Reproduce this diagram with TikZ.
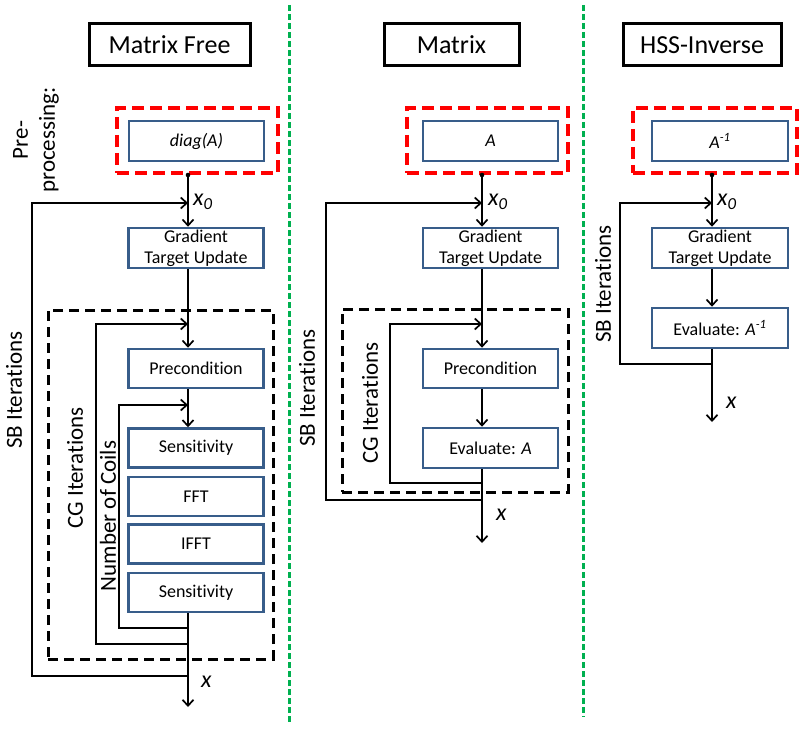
\documentclass[tikz,border=0pt]{standalone}
\usepackage{fontspec}
\setmainfont{Carlito}[Ligatures={NoCommon}]
\usetikzlibrary{arrows.meta}
\definecolor{boxblue}{RGB}{56,93,138}
\definecolor{sepgreen}{RGB}{0,176,80}
\begin{document}
\begin{tikzpicture}[x=1pt,y=-1pt,
  flow/.style={line width=1.7pt,-{Straight Barb[length=6pt,width=11pt,line width=1.7pt]}},
  titlebox/.style={draw,line width=3pt,minimum height=42pt,inner sep=0pt,font=\fontsize{26}{30}\selectfont},
  bbox/.style={draw=boxblue,line width=2.5pt,fill=white,minimum width=135pt,minimum height=40pt,inner sep=0pt,align=center,font=\fontsize{18}{21}\selectfont},
  gbox/.style={bbox,text height=19pt},
  prebox/.style={draw=red,line width=3.5pt,dash pattern=on 12pt off 6pt,minimum width=161pt,minimum height=65pt,inner sep=0pt},
  cgbox/.style={draw=black,line width=3pt,dash pattern=on 10pt off 6pt,inner sep=0pt},
  sepline/.style={draw=sepgreen,line width=3pt,dash pattern=on 6pt off 3pt},
  sidelab/.style={rotate=90,inner sep=0pt,align=center,font=\fontsize{23}{27}\selectfont},
  vlab/.style={inner sep=0pt,anchor=base west,font=\fontsize{24}{28}\selectfont\itshape},
  dotmark/.style={fill=black}
]
\useasboundingbox (0,0) rectangle (800,730);

% separators
\coordinate (sepAt) at (289,5); \coordinate (sepAb) at (289,722);
\coordinate (sepBt) at (583,5); \coordinate (sepBb) at (583,717);
\draw[sepline] (sepAt) -- (sepAb);
\draw[sepline] (sepBt) -- (sepBb);

% ================= Matrix Free =================
\node[titlebox,minimum width=161pt] (t1) at (169.5,45) {Matrix Free};
\node[sidelab] (pre) at (36,140) {Pre-\\processing:};
\node[prebox] (r1) at (197.5,140.5) {};
\node[bbox] (a1) at (196.5,141) {\itshape diag(A)};
\node[bbox] (g1) at (196,248) {Gradient\\Target Update};
\node[cgbox,minimum width=225pt,minimum height=349pt] (cg1box) at (160.5,484.5) {};
\node[bbox,minimum height=39pt] (p1) at (196,368.5) {Precondition};
\node[bbox,minimum height=39pt] (s1) at (196,448) {Sensitivity};
\node[bbox,minimum height=39pt] (f1) at (196,496.5) {FFT};
\node[bbox,minimum height=39pt] (i1) at (196,544) {IFFT};
\node[bbox,minimum height=39pt] (s2) at (196,592.5) {Sensitivity};

\coordinate (d1) at (188,175);
\coordinate (in1) at (188,203);
\coordinate (cgi1) at (188,324);
\coordinate (coi1) at (188,405);
\coordinate (coj1) at (188,628);
\coordinate (cgj1) at (188,644);
\coordinate (sbj1) at (188,676);
\coordinate (out1) at (188,707);

\fill[dotmark] (d1) circle (2.3pt);
\draw[flow] (d1) -- (d1 |- g1.north);
\draw[flow] (g1.south -| d1) -- (d1 |- p1.north);
\draw[flow] (p1.south -| d1) -- (d1 |- s1.north);
\draw[flow] (s2.south -| d1) -- (out1);
\draw[flow] (sbj1) -- ++(-156,0) |- (in1);
\draw[flow] (cgj1) -- ++(-92,0) |- (cgi1);
\draw[flow] (coj1) -- ++(-69,0) |- (coi1);

\node[vlab] (x01) at (193,206) {x\textsubscript{0}};
\node[vlab] (x1) at (201,687) {x};
\node[sidelab] (sb1) at (14,390) {SB Iterations};
\node[sidelab] (cg1) at (75,468) {CG Iterations};
\node[sidelab] (co1) at (108,516) {Number of Coils};

% ================= Matrix =================
\node[titlebox,minimum width=135pt] (t2) at (451.5,45) {Matrix};
\node[prebox] (r2) at (487.5,140.5) {};
\node[bbox] (a2) at (490.5,141) {\itshape A};
\node[bbox] (g2) at (490.5,248) {Gradient\\Target Update};
\node[cgbox,minimum width=226pt,minimum height=183pt] (cg2box) at (455,400.5) {};
\node[bbox,minimum height=39pt] (p2) at (490.5,368.5) {Precondition};
\node[bbox] (e2) at (490.5,448) {Evaluate: \textit{A}};

\coordinate (d2) at (482,175);
\coordinate (in2) at (482,203);
\coordinate (cgi2) at (482,324);
\coordinate (cgj2) at (482,483);
\coordinate (sbj2) at (482,500);
\coordinate (out2) at (482,543);

\fill[dotmark] (d2) circle (2.3pt);
\draw[flow] (d2) -- (d2 |- g2.north);
\draw[flow] (g2.south -| d2) -- (d2 |- p2.north);
\draw[flow] (p2.south -| d2) -- (d2 |- e2.north);
\draw[flow] (e2.south -| d2) -- (out2);
\draw[flow] (sbj2) -- ++(-156,0) |- (in2);
\draw[flow] (cgj2) -- ++(-92,0) |- (cgi2);

\node[vlab] (x02) at (488,206) {x\textsubscript{0}};
\node[vlab] (x2) at (496,520) {x};
\node[sidelab] (sb2) at (307,388) {SB Iterations};
\node[sidelab] (cg2) at (370,403) {CG Iterations};

% ================= HSS-Inverse =================
\node[titlebox,minimum width=158pt] (t3) at (702,45) {HSS-Inverse};
\node[prebox,minimum width=164pt] (r3) at (715,140.5) {};
\node[bbox,minimum width=136pt] (a3) at (720,141) {\itshape A\textsuperscript{-1}};
\node[bbox,minimum width=136pt] (g3) at (720,248) {Gradient\\Target Update};
\node[bbox,minimum width=136pt] (e3) at (720,328) {Evaluate: \textit{A\textsuperscript{-1}}};

\coordinate (d3) at (712,175);
\coordinate (in3) at (712,203);
\coordinate (sbj3) at (712,364);
\coordinate (out3) at (712,422);

\fill[dotmark] (d3) circle (2.3pt);
\draw[flow] (d3) -- (d3 |- g3.north);
\draw[flow] (g3.south -| d3) -- (d3 |- e3.north);
\draw[flow] (e3.south -| d3) -- (out3);
\draw[flow] (sbj3) -- ++(-92,0) |- (in3);

\node[vlab] (x03) at (717,206) {x\textsubscript{0}};
\node[vlab] (x3) at (726,408) {x};
\node[sidelab] (sb3) at (603,284) {SB Iterations};
\end{tikzpicture}
\end{document}
